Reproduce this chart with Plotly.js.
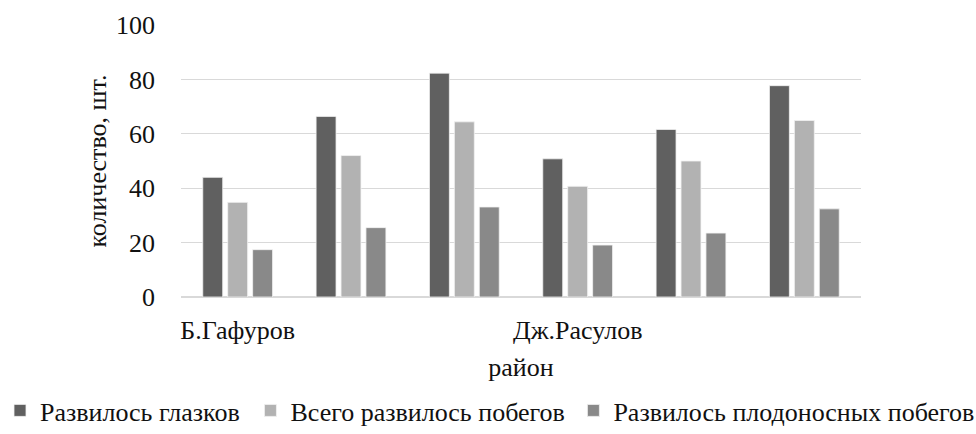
<!DOCTYPE html>
<html>
<head>
<meta charset="utf-8">
<script src="https://cdn.plot.ly/plotly-3.0.1.min.js"></script>
<style>html,body{margin:0;padding:0;background:#fff}#chart{width:976px;height:434px}</style>
</head>
<body>
<div id="chart"></div>
<script>
// Data
const groups = [1, 2, 3, 4, 5, 6];
const groupLabels = ['Б.Гафуров', '', '', 'Дж.Расулов', '', ''];
const eyes = [44, 66.4, 82.3, 50.8, 61.6, 77.7];          // Развилось глазков
const shootsTotal = [34.8, 52.0, 64.4, 40.7, 50.0, 64.9];  // Всего развилось побегов
const shootsFruit = [17.4, 25.5, 33.1, 19.1, 23.5, 32.4];  // Развилось плодоносных побегов
const seriesNames = ['Развилось глазков', 'Всего развилось побегов', 'Развилось плодоносных побегов'];
const yTitle = 'количество, шт.';
const xTitle = 'район';

const colors = ['#606060', '#b2b2b2', '#898989'];
const font = 'Liberation Serif';
const fs = 26;
const txt = '#111111';

const series = [eyes, shootsTotal, shootsFruit];
const legendIds = ['legend', 'legend2', 'legend3'];
const traces = series.map((vals, i) => ({
  type: 'bar',
  x: groups,
  y: vals,
  name: seriesNames[i],
  legend: legendIds[i],
  marker: {color: colors[i], line: {color: '#f2f2f2', width: 0.8}},
  hoverinfo: 'y+name'
}));

const tickIdx = groupLabels.map((l, i) => l ? i : -1).filter(i => i >= 0);

function leg(x) {
  return {x: x, xref: 'container', y: 0, yref: 'container', yanchor: 'bottom', xanchor: 'left',
    orientation: 'h', font: {family: font, size: fs, color: txt}, bgcolor: 'rgba(0,0,0,0)',
    itemclick: false, itemdoubleclick: false};
}

const layout = {
  width: 976, height: 434,
  margin: {l: 181, r: 115, t: 25, b: 137, autoexpand: false},
  paper_bgcolor: '#fff', plot_bgcolor: '#fff',
  barmode: 'group', bargap: 0.34, bargroupgap: 0.2,
  font: {family: font, size: fs, color: txt},
  xaxis: {
    range: [0.5, 6.5], tickvals: tickIdx.map(i => groups[i]), ticktext: tickIdx.map(i => groupLabels[i]),
    showgrid: false, zeroline: false, showline: false, ticks: '', ticklabelstandoff: 15,
    tickfont: {family: font, size: fs, color: txt},
    title: {text: xTitle, font: {family: font, size: fs, color: txt}, standoff: 13},
    fixedrange: true
  },
  yaxis: {
    range: [0, 100], dtick: 20, showgrid: true, gridcolor: '#d9d9d9', gridwidth: 1.3,
    zeroline: true, zerolinecolor: '#d9d9d9', zerolinewidth: 1.3, showline: false, ticks: '',
    ticklabelstandoff: 25,
    tickfont: {family: font, size: fs, color: txt},
    title: {text: yTitle, font: {family: font, size: fs, color: txt}, standoff: 1},
    fixedrange: true
  },
  showlegend: true,
  legend: leg(0),
  legend2: leg(0.2566),
  legend3: leg(0.5875)
};

Plotly.newPlot('chart', traces, layout, {displayModeBar: false, staticPlot: true});
</script>
</body>
</html>
